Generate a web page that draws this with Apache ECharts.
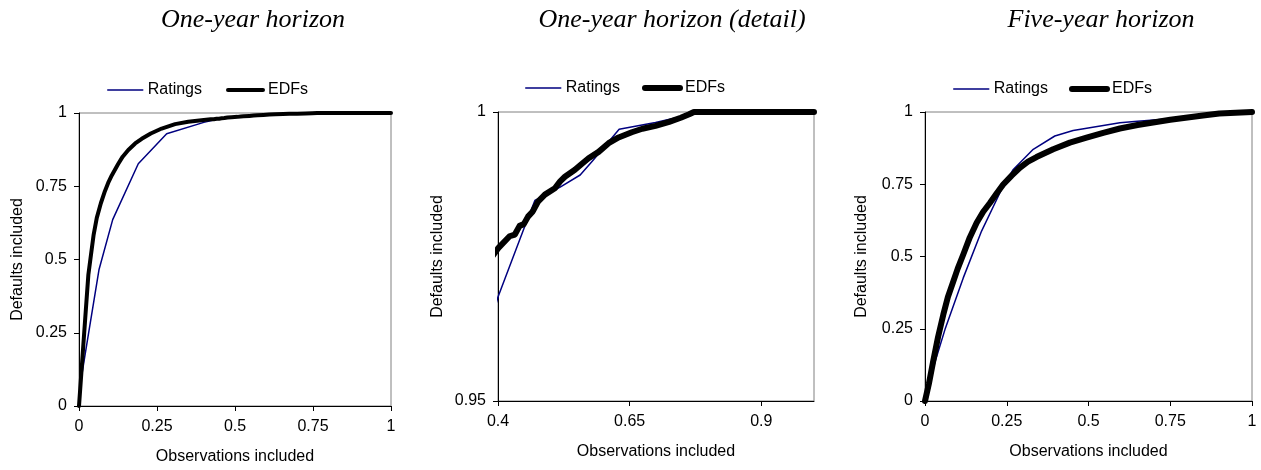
<!DOCTYPE html>
<html>
<head>
<meta charset="utf-8">
<title>Cumulative accuracy profiles</title>
<script src="https://cdn.jsdelivr.net/npm/echarts@6.0.0/dist/echarts.min.js"></script>
<style>
  html, body { margin: 0; padding: 0; background: #fff; }
  #main { width: 1261px; height: 470px; }
</style>
</head>
<body>
<div id="main"></div>
<script>
// data: [observations included, defaults included]
var oneYearRatings = [[0,0],[0.005,0.08],[0.028,0.231],[0.064,0.465],[0.108,0.636],[0.19,0.827],[0.281,0.929],
  [0.4,0.968],[0.45,0.980],[0.47,0.9847],[0.518,0.987],[0.556,0.9891],[0.581,0.9917],[0.63,0.997],
  [0.699,0.9982],[0.747,0.9992],[0.775,1],[1,1]];
var oneYearEdfs = [[0,0],[0.01,0.15],[0.02,0.3],[0.03,0.448],[0.0385,0.517],[0.047,0.585],[0.057,0.642],
  [0.07,0.692],[0.083,0.733],[0.095,0.765],[0.105,0.787],[0.125,0.825],[0.14,0.851],[0.158,0.874],
  [0.18,0.896],[0.201,0.912],[0.23,0.93],[0.265,0.947],[0.308,0.962],[0.35,0.970],[0.4,0.9764],
  [0.422,0.9785],[0.432,0.9788],[0.441,0.9803],[0.449,0.9806],[0.457,0.9819],[0.466,0.9828],[0.476,0.9845],
  [0.489,0.9857],[0.508,0.9868],[0.518,0.988],[0.527,0.9888],[0.546,0.99],[0.56,0.9911],[0.572,0.992],
  [0.591,0.9931],[0.61,0.9946],[0.629,0.9956],[0.654,0.9965],[0.674,0.9971],[0.699,0.9976],[0.725,0.9983],
  [0.747,0.999],[0.763,0.9996],[0.772,1],[1,1]];
var fiveYearRatings = [[0,0],[0.031,0.137],[0.061,0.247],[0.117,0.426],[0.173,0.588],[0.239,0.744],[0.27,0.801],
  [0.331,0.871],[0.397,0.917],[0.453,0.936],[0.596,0.963],[0.65,0.968],[0.75,0.977],[0.85,0.99],[0.9,0.997],[1,1]];
var fiveYearEdfs = [[0,0],[0.012,0.06],[0.025,0.137],[0.04,0.222],[0.056,0.299],[0.07,0.36],[0.087,0.415],
  [0.1,0.458],[0.117,0.507],[0.137,0.566],[0.158,0.617],[0.178,0.655],[0.199,0.686],[0.22,0.72],[0.239,0.749],
  [0.265,0.78],[0.29,0.807],[0.315,0.828],[0.341,0.844],[0.392,0.871],[0.443,0.894],[0.494,0.911],
  [0.545,0.928],[0.596,0.943],[0.65,0.955],[0.75,0.973],[0.85,0.988],[0.9,0.995],[1,1]];

var panelTitles = ['One-year horizon', 'One-year horizon (detail)', 'Five-year horizon'];
var fullTicks = [0, 0.25, 0.5, 0.75, 1];
var detailXTicks = [0.4, 0.65, 0.9];
var detailYTicks = [0.95, 1];

var sans = 'Liberation Sans, Arial, sans-serif';
var navy = '#000080';

function makeAxis(kind, idx, min, max, ticks, name, nameGap) {
  return {
    type: 'value',
    gridIndex: idx,
    min: min,
    max: max,
    name: name,
    nameLocation: 'middle',
    nameGap: nameGap,
    nameTextStyle: { color: '#000', fontSize: 16, fontFamily: sans },
    axisLine: { show: true, onZero: false, lineStyle: { color: '#000', width: 1 } },
    axisTick: { show: true, inside: false, length: 5, customValues: ticks, lineStyle: { color: '#000' } },
    axisLabel: { color: '#000', fontSize: 16, fontFamily: sans, margin: kind == 'x' ? 13 : 12,
      customValues: ticks, showMinLabel: true, showMaxLabel: true },
    splitLine: { show: false }
  };
}

function makeLegend(left, top, gap, edfWidth) {
  return {
    left: left, top: top, itemWidth: 35, itemHeight: 14, itemGap: gap, padding: 0,
    itemStyle: { opacity: 0 },
    textStyle: { fontSize: 16, fontFamily: sans, color: '#000' },
    data: [
      { name: 'Ratings', lineStyle: { width: 1.5, color: navy } },
      { name: 'EDFs', lineStyle: { width: edfWidth, color: '#000', cap: 'round' } }
    ]
  };
}

function makeLine(name, idx, data, color, width) {
  return {
    name: name, type: 'line', xAxisIndex: idx, yAxisIndex: idx, data: data, symbol: 'none',
    lineStyle: { color: color, width: width, cap: 'round', join: 'round' }, itemStyle: { color: color }
  };
}

var titleStyle = { fontFamily: 'Liberation Serif', fontStyle: 'italic', fontWeight: 'normal', fontSize: 26, color: '#000' };

var chart = echarts.init(document.getElementById('main'));

var option = {
  animation: false,
  backgroundColor: '#fff',
  title: [
    { text: panelTitles[0], left: 248, top: 2, textAlign: 'center', textStyle: titleStyle },
    { text: panelTitles[1], left: 667, top: 2, textAlign: 'center', textStyle: titleStyle },
    { text: panelTitles[2], left: 1096, top: 2, textAlign: 'center', textStyle: titleStyle }
  ],
  legend: [
    makeLegend(107, 82, 24, 4),
    makeLegend(525, 80, 22, 6),
    makeLegend(953, 81, 21, 6)
  ],
  grid: [
    { left: 79, top: 113, width: 312, height: 293, show: true, borderColor: '#808080', borderWidth: 1 },
    { left: 498, top: 112, width: 316, height: 289, show: true, borderColor: '#808080', borderWidth: 1 },
    { left: 925, top: 112, width: 327, height: 289, show: true, borderColor: '#808080', borderWidth: 1 }
  ],
  xAxis: [
    makeAxis('x', 0, 0, 1, fullTicks, 'Observations included', 43),
    makeAxis('x', 1, 0.4, 1, detailXTicks, 'Observations included', 43),
    makeAxis('x', 2, 0, 1, fullTicks, 'Observations included', 43)
  ],
  yAxis: [
    makeAxis('y', 0, 0, 1, fullTicks, 'Defaults included', 53),
    makeAxis('y', 1, 0.95, 1, detailYTicks, 'Defaults included', 52),
    makeAxis('y', 2, 0, 1, fullTicks, 'Defaults included', 55)
  ],
  series: [
    makeLine('Ratings', 0, oneYearRatings, navy, 1.5),
    makeLine('EDFs', 0, oneYearEdfs, '#000', 4),
    makeLine('Ratings', 1, oneYearRatings, navy, 1.5),
    makeLine('EDFs', 1, oneYearEdfs, '#000', 6),
    makeLine('Ratings', 2, fiveYearRatings, navy, 1.5),
    makeLine('EDFs', 2, fiveYearEdfs, '#000', 6)
  ]
};

chart.setOption(option);
</script>
</body>
</html>
